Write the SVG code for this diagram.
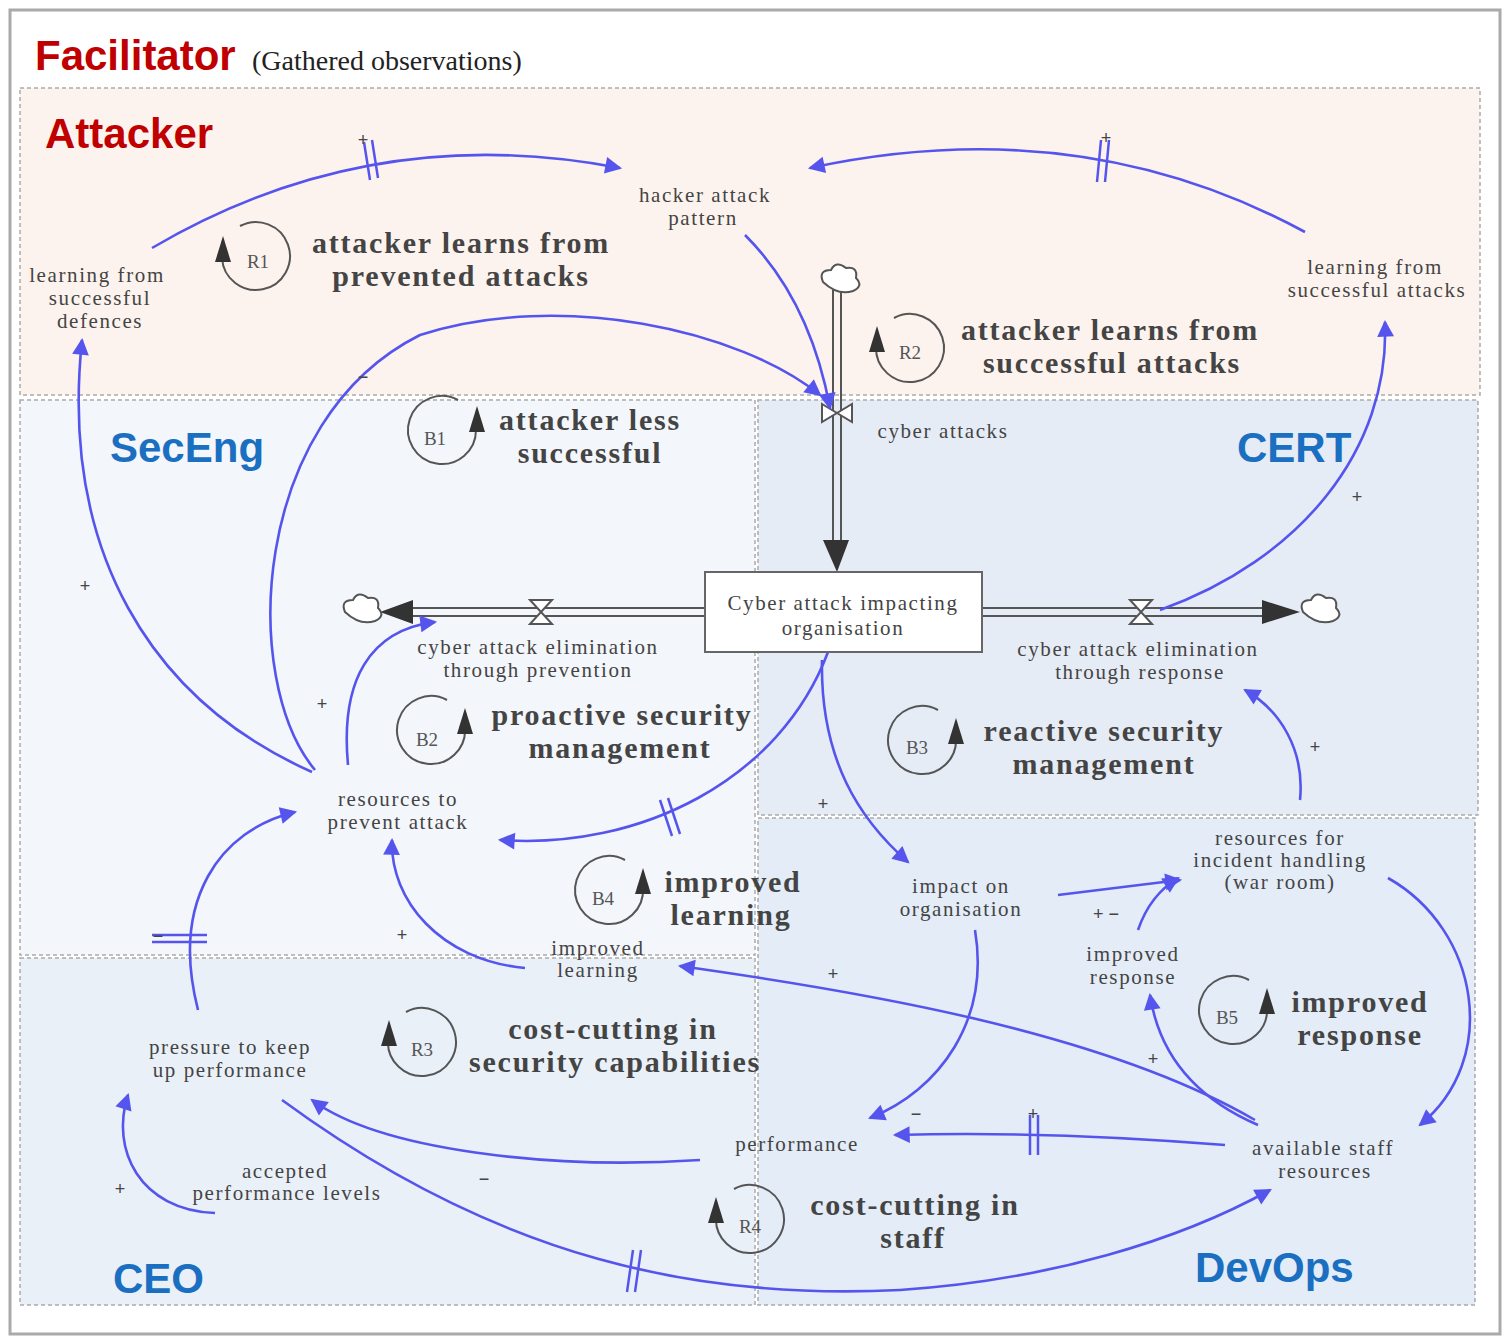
<svg xmlns="http://www.w3.org/2000/svg" width="1510" height="1344" viewBox="0 0 1510 1344">
<style>
.t{font-family:"Liberation Serif",serif;font-size:21px;letter-spacing:1.6px;fill:#444;text-anchor:middle}
.lp{font-family:"Liberation Serif",serif;font-size:30px;letter-spacing:1.8px;font-weight:bold;fill:#444;text-anchor:middle}
.ll{font-family:"Liberation Serif",serif;font-size:19px;fill:#555;text-anchor:middle}
.role{font-family:"Liberation Sans",sans-serif;font-size:42px;font-weight:bold}
.sg{font-family:"Liberation Sans",sans-serif;font-size:18px;fill:#444;text-anchor:middle}
.c{fill:none;stroke:#5555ee;stroke-width:2.6;marker-end:url(#a)}
.reg{stroke:#aaa;stroke-width:1.5;stroke-dasharray:4 3}
.loop{fill:none;stroke:#555;stroke-width:2}
.pipe{stroke:#555;stroke-width:2;fill:none}
.dl{stroke:#5555ee;stroke-width:2.5}
</style>
<defs>
<marker id="a" viewBox="0 0 10 10" refX="9" refY="5" markerWidth="7" markerHeight="7" orient="auto" markerUnits="userSpaceOnUse" style="overflow:visible"><path d="M0,0L10,5L0,10z" fill="#5555ee" transform="scale(2.4) translate(-5,-2.9)"/></marker>
</defs>
<rect x="0" y="0" width="1510" height="1344" fill="#fff"/>
<rect x="10" y="10" width="1490" height="1324" fill="#fff" stroke="#aaa" stroke-width="3"/>
<g id="regions">
<rect class="reg" x="20" y="88" width="1460" height="307" fill="#fdf3ee"/>
<rect class="reg" x="20" y="400" width="735" height="555" fill="#f3f6fb"/>
<rect class="reg" x="758" y="400" width="720" height="415" fill="#e6ecf6"/>
<rect class="reg" x="20" y="958" width="735" height="347" fill="#eaf0f8"/>
<rect class="reg" x="758" y="818" width="717" height="487" fill="#e3ecf7"/>
</g>
<text x="35" y="70" class="role" fill="#c00000">Facilitator</text>
<text x="252" y="70" font-family="Liberation Serif,serif" font-size="28" fill="#222">(Gathered observations)</text>
<text x="45" y="148" class="role" fill="#c00000">Attacker</text>
<text x="110" y="462" class="role" fill="#1a6fc0">SecEng</text>
<text x="1237" y="462" class="role" fill="#1a6fc0">CERT</text>
<text x="113" y="1293" class="role" fill="#1a6fc0">CEO</text>
<text x="1195" y="1282" class="role" fill="#1a6fc0">DevOps</text>

<g id="stock-flow">
<path class="pipe" d="M833,290V545M841,290V545"/>
<path d="M823,540L849,540L837,572z" fill="#333"/>
<path class="pipe" d="M705,608H410M705,616H410"/>
<path d="M413,600L413,624L380,612z" fill="#333"/>
<path class="pipe" d="M982,608H1265M982,616H1265"/>
<path d="M1262,600L1262,624L1300,612z" fill="#333"/>
<path d="M823,282q-5,-12 8,-12q5,-10 15,-2q12,-2 10,10q8,8 -3,13q-15,5 -30,-9z" fill="#fff" stroke="#555" stroke-width="2"/>
<path d="M345,612q-5,-12 8,-12q5,-10 15,-2q12,-2 10,10q8,8 -3,13q-15,5 -30,-9z" fill="#fff" stroke="#555" stroke-width="2"/>
<path d="M1303,612q-5,-12 8,-12q5,-10 15,-2q12,-2 10,10q8,8 -3,13q-15,5 -30,-9z" fill="#fff" stroke="#555" stroke-width="2"/>
<path d="M822,404L852,422L852,404L822,422z" fill="#fff" stroke="#555" stroke-width="2"/>
<path d="M530,600L552,600L530,624L552,624z" fill="#fff" stroke="#555" stroke-width="2"/>
<path d="M1130,600L1152,600L1130,624L1152,624z" fill="#fff" stroke="#555" stroke-width="2"/>
</g>

<g id="connectors">
<path class="c" d="M152,248Q370,120 620,168"/>
<path class="c" d="M1305,232Q1080,110 810,168"/>
<path class="c" d="M745,235Q810,300 830,408"/>
<path class="c" d="M315,770C240,680 250,420 420,335C560,290 740,330 820,395"/>
<path class="c" d="M312,772C150,700 60,550 82,340"/>
<path class="c" d="M1160,610C1300,560 1390,450 1385,322"/>
<path class="c" d="M348,765C340,680 370,630 435,622"/>
<path class="c" d="M828,652C780,780 640,850 500,840"/>
<path class="c" d="M822,660C820,760 860,820 908,862"/>
<path class="c" d="M1058,895L1180,880"/>
<path class="c" d="M1138,930Q1150,895 1178,878"/>
<path class="c" d="M1300,800C1305,750 1280,710 1245,690"/>
<path class="c" d="M1388,878C1480,930 1500,1060 1420,1125"/>
<path class="c" d="M1258,1125C1200,1100 1160,1060 1150,995"/>
<path class="c" d="M1255,1120C1100,1030 850,990 680,966"/>
<path class="c" d="M1225,1145C1100,1135 1000,1132 895,1135"/>
<path class="c" d="M975,930C990,1020 940,1090 870,1118"/>
<path class="c" d="M525,968C440,960 390,900 392,840"/>
<path class="c" d="M198,1010C170,900 220,830 295,812"/>
<path class="c" d="M700,1160C550,1170 380,1150 312,1100"/>
<path class="c" d="M215,1213C140,1210 110,1150 128,1095"/>
<path class="c" d="M282,1100C500,1260 700,1300 900,1290C1050,1280 1180,1240 1270,1190"/>
<path class="dl" d="M364,142l6,38M372,140l6,38M1101,140l-4,42M1109,140l-4,42M660,800l12,36M668,798l12,36M152,935h55M152,942h55M1030,1115v40M1038,1115v40M633,1250l-6,42M641,1250l-6,42"/>
</g>

<g id="signs">
<text class="sg" x="363" y="146">+</text><text class="sg" x="1106" y="144">+</text>
<text class="sg" x="363" y="383">−</text><text class="sg" x="85" y="592">+</text>
<text class="sg" x="1357" y="503">+</text><text class="sg" x="322" y="710">+</text>
<text class="sg" x="823" y="810">+</text><text class="sg" x="402" y="941">+</text>
<text class="sg" x="1106" y="920">+ −</text><text class="sg" x="833" y="980">+</text>
<text class="sg" x="1315" y="753">+</text><text class="sg" x="1153" y="1065">+</text>
<text class="sg" x="916" y="1120">−</text><text class="sg" x="1033" y="1120">+</text>
<text class="sg" x="120" y="1195">+</text><text class="sg" x="484" y="1185">−</text>
<text class="sg" x="158" y="942">−</text>
</g>

<g id="n-stock"><rect x="705" y="572" width="277" height="80" fill="#fff" stroke="#666" stroke-width="2"/>
<text class="t" x="843" y="610">Cyber attack impacting</text><text class="t" x="843" y="635">organisation</text></g>
<g id="n-hap"><text class="t" x="705" y="202">hacker attack</text><text class="t" x="703" y="225">pattern</text></g>
<g id="n-lsd"><text class="t" x="97" y="282">learning from</text><text class="t" x="100" y="305">successful</text><text class="t" x="100" y="328">defences</text></g>
<g id="n-lsa"><text class="t" x="1375" y="274">learning from</text><text class="t" x="1377" y="297">successful attacks</text></g>
<g id="n-ca"><text class="t" x="943" y="438">cyber attacks</text></g>
<g id="n-cep"><text class="t" x="538" y="654">cyber attack elimination</text><text class="t" x="538" y="677">through prevention</text></g>
<g id="n-cer"><text class="t" x="1138" y="656">cyber attack elimination</text><text class="t" x="1140" y="679">through response</text></g>
<g id="n-rpa"><text class="t" x="398" y="806">resources to</text><text class="t" x="398" y="829">prevent attack</text></g>
<g id="n-ioo"><text class="t" x="961" y="893">impact on</text><text class="t" x="961" y="916">organisation</text></g>
<g id="n-rih"><text class="t" x="1280" y="845">resources for</text><text class="t" x="1280" y="867">incident handling</text><text class="t" x="1280" y="889">(war room)</text></g>
<g id="n-ir"><text class="t" x="1133" y="961">improved</text><text class="t" x="1133" y="984">response</text></g>
<g id="n-il"><text class="t" x="598" y="955">improved</text><text class="t" x="598" y="977">learning</text></g>
<g id="n-pk"><text class="t" x="230" y="1054">pressure to keep</text><text class="t" x="230" y="1077">up performance</text></g>
<g id="n-perf"><text class="t" x="797" y="1151">performance</text></g>
<g id="n-asr"><text class="t" x="1323" y="1155">available staff</text><text class="t" x="1325" y="1178">resources</text></g>
<g id="n-apl"><text class="t" x="285" y="1178">accepted</text><text class="t" x="287" y="1200">performance levels</text></g>

<g id="loops">
<path class="loop" d="M222,258A34,34 0 1 0 240,226"/><path d="M215,262l8,-26l8,26z" fill="#333"/><text class="ll" x="258" y="268">R1</text>
<text class="lp" x="461" y="253">attacker learns from</text><text class="lp" x="461" y="286">prevented attacks</text>
<path class="loop" d="M876,347A34,34 0 1 0 894,318"/><path d="M869,352l8,-26l8,26z" fill="#333"/><text class="ll" x="910" y="359">R2</text>
<text class="lp" x="1110" y="340">attacker learns from</text><text class="lp" x="1112" y="373">successful attacks</text>
<path class="loop" d="M476,430A34,34 0 1 1 458,400"/><path d="M469,432l8,-26l8,26z" fill="#333"/><text class="ll" x="435" y="445">B1</text>
<text class="lp" x="590" y="430">attacker less</text><text class="lp" x="590" y="463">successful</text>
<path class="loop" d="M465,728A34,34 0 1 1 447,700"/><path d="M457,734l8,-26l8,26z" fill="#333"/><text class="ll" x="427" y="746">B2</text>
<text class="lp" x="622" y="725">proactive security</text><text class="lp" x="620" y="758">management</text>
<path class="loop" d="M956,738A34,34 0 1 1 938,710"/><path d="M948,744l8,-26l8,26z" fill="#333"/><text class="ll" x="917" y="754">B3</text>
<text class="lp" x="1104" y="741">reactive security</text><text class="lp" x="1104" y="774">management</text>
<path class="loop" d="M643,888A34,34 0 1 1 625,860"/><path d="M635,894l8,-26l8,26z" fill="#333"/><text class="ll" x="603" y="905">B4</text>
<text class="lp" x="733" y="892">improved</text><text class="lp" x="731" y="925">learning</text>
<path class="loop" d="M1267,1008A34,34 0 1 1 1249,980"/><path d="M1259,1014l8,-26l8,26z" fill="#333"/><text class="ll" x="1227" y="1024">B5</text>
<text class="lp" x="1360" y="1012">improved</text><text class="lp" x="1360" y="1045">response</text>
<path class="loop" d="M388,1040A34,34 0 1 0 406,1012"/><path d="M381,1046l8,-26l8,26z" fill="#333"/><text class="ll" x="422" y="1056">R3</text>
<text class="lp" x="613" y="1039">cost-cutting in</text><text class="lp" x="615" y="1072">security capabilities</text>
<path class="loop" d="M716,1217A34,34 0 1 0 734,1189"/><path d="M708,1223l8,-26l8,26z" fill="#333"/><text class="ll" x="750" y="1233">R4</text>
<text class="lp" x="915" y="1215">cost-cutting in</text><text class="lp" x="913" y="1248">staff</text>
</g>
</svg>
